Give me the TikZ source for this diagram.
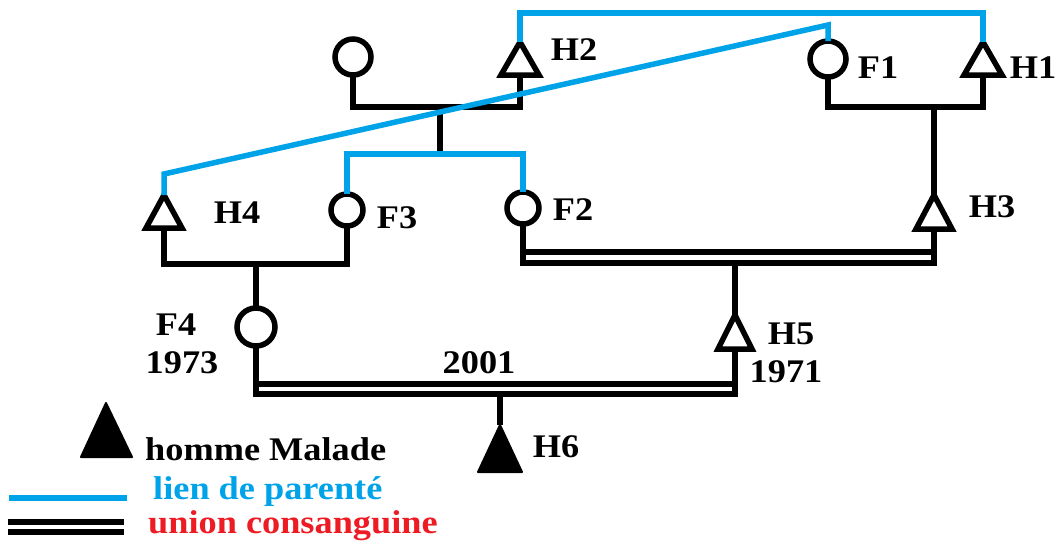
\documentclass[tikz,border=0pt]{standalone}
\usepackage{fontspec}
\newfontfamily\labfont{Liberation Serif}[FakeStretch=1.1]
\definecolor{parblue}{RGB}{0,162,232}
\definecolor{parred}{RGB}{237,28,36}
\newcommand\mytri[5]{%
  \coordinate (#1-a) at (#2,#3);
  \coordinate (#1-b) at (#2,#4);
  \draw[ln] (#1-a) -- (#2+#5,#4) -- (#2-#5,#4) -- cycle;}
\begin{document}
\begin{tikzpicture}[x=1pt,y=-1pt,
  ln/.style={line width=5.5pt, black},
  bl/.style={line width=5.5pt, parblue},
  circ/.style={circle, draw, line width=5.5pt, inner sep=0pt, outer sep=0pt},
  lab/.style={font=\labfont\bfseries\fontsize{33}{33}\selectfont, inner sep=0pt}]
\useasboundingbox (0,0) rectangle (1059,542);
% persons
\node[circ, minimum size=36pt] (m1) at (353,57) {};
\mytri{H2}{520}{42}{75}{19}
\node[circ, minimum size=36pt] (F1) at (828,59) {};
\mytri{H1}{983}{42}{75}{19}
\mytri{H4}{164}{195}{228}{18}
\node[circ, minimum size=32pt] (F3) at (347,210) {};
\node[circ, minimum size=32pt] (F2) at (523,208) {};
\mytri{H3}{934}{195}{229}{18}
\node[circ, minimum size=38pt] (F4) at (256,327) {};
\mytri{H5}{735}{315}{349}{17}
\coordinate (H6-a) at (500,425);
\filldraw[line width=2pt, line join=round] (H6-a) -- (522,472) -- (478,472) -- cycle;
\coordinate (L-a) at (106,403);
\filldraw[line width=2pt, line join=round] (L-a) -- (132,457) -- (81,457) -- cycle;
% junction coordinates
\coordinate (u1) at (440,107);
\coordinate (s1) at (440,154);
\coordinate (t1) at (750,13);
\coordinate (k1) at (828,25);
\coordinate (k2) at (164,174);
\coordinate (u2) at (934,107);
\coordinate (u3) at (256,264);
\coordinate (u4) at (735,263);
\coordinate (d1) at (523,252);
\coordinate (d2) at (934,252);
\coordinate (u5) at (500,394);
\coordinate (d3) at (256,384);
\coordinate (d4) at (735,384);
% black connectors
\draw[ln] (m1.south) |- (u1) -| (H2-b);
\draw[ln] (u1) -- (s1);
\draw[ln] (F1.south) |- (u2) -| (H1-b);
\draw[ln] (u2) -- (H3-a);
\draw[ln] (H4-b) |- (u3) -| (F3.south);
\draw[ln] (u3) -- (F4.north);
\draw[ln] (F2.south) |- (u4) -| (H3-b);
\draw[ln] (d1) -- (d2);
\draw[ln] (u4) -- (H5-a);
\draw[ln] (F4.south) |- (u5) -| (H5-b);
\draw[ln] (d3) -- (d4);
\draw[ln] (u5) -- (H6-a);
% blue connectors
\draw[bl] (F3.north) |- (s1) -| (F2.north);
\draw[bl] (H2-a) |- (t1) -| (H1-a);
\draw[bl] (F1.north) -- (k1) -- (k2) -- (H4-a);
% labels
\node[lab] (lH2) at (574,50) {H2};
\node[lab] (lF1) at (878,68) {F1};
\node[lab] (lH1) at (1033,68) {H1};
\node[lab] (lH4) at (237,213) {H4};
\node[lab] (lF3) at (397,218) {F3};
\node[lab] (lF2) at (573,210) {F2};
\node[lab] (lH3) at (992,207) {H3};
\node[lab] (lF4) at (176,325) {F4};
\node[lab] (lF4y) at (182,363) {1973};
\node[lab] (lH5) at (791,334) {H5};
\node[lab] (lH5y) at (786,372) {1971};
\node[lab] (lU) at (479,363) {2001};
\node[lab] (lH6) at (556,447) {H6};
% legend
\coordinate (b1) at (9,498);
\coordinate (b2) at (127,498);
\draw[line width=6pt, parblue] (b1) -- (b2);
\coordinate (c1) at (8,522);
\coordinate (c2) at (124,522);
\coordinate (c3) at (8,532);
\coordinate (c4) at (124,532);
\draw[ln] (c1) -- (c2);
\draw[ln] (c3) -- (c4);
\node[lab, anchor=base west] (leg1) at (145,460) {homme Malade};
\node[lab, anchor=base west, text=parblue] (leg2) at (153,499) {lien de parenté};
\node[lab, anchor=base west, text=parred] (leg3) at (148,533) {union consanguine};
\end{tikzpicture}
\end{document}
